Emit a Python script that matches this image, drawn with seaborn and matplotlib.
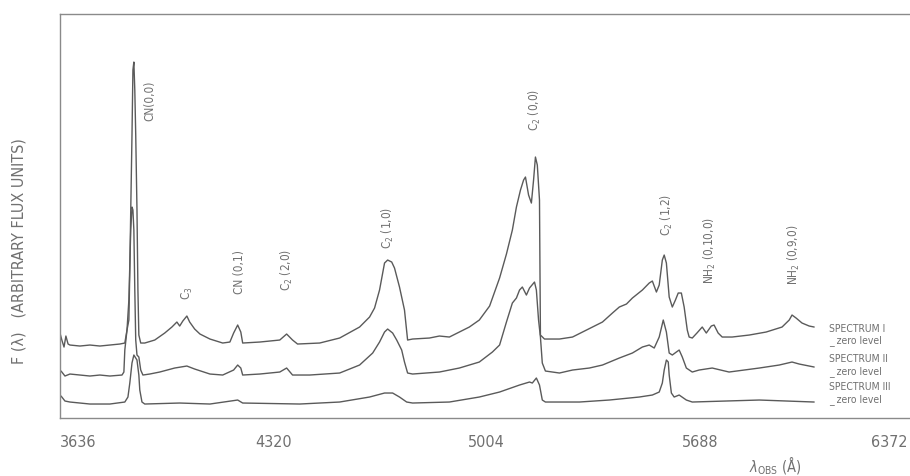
import matplotlib
matplotlib.use("Agg")
import matplotlib.pyplot as plt
import matplotlib.transforms as mtransforms
import seaborn as sns
import pandas as pd

# Observed wavelength (Angstrom) and relative flux for the three cometary spectra
wave_1 = [3636, 3642, 3649, 3655, 3662, 3668, 3700, 3732, 3764, 3796, 3828, 3844, 3851, 3857,
          3860, 3863, 3867, 3870, 3873, 3876, 3879, 3883, 3886, 3889, 3895, 3908, 3940, 3972,
          3995, 4011, 4020, 4030, 4043, 4052, 4068, 4085, 4117, 4158, 4181, 4193, 4206, 4216,
          4222, 4277, 4341, 4363, 4382, 4398, 4469, 4533, 4597, 4629, 4645, 4661, 4677, 4687,
          4700, 4709, 4725, 4741, 4751, 4767, 4821, 4853, 4885, 4917, 4949, 4981, 5014, 5046,
          5068, 5087, 5100, 5113, 5123, 5129, 5139, 5148, 5155, 5161, 5167, 5174, 5177, 5190,
          5238, 5280, 5312, 5344, 5376, 5408, 5430, 5453, 5472, 5504, 5526, 5536, 5549, 5558,
          5568, 5574, 5581, 5590, 5600, 5610, 5619, 5629, 5638, 5648, 5654, 5664, 5679, 5696,
          5709, 5725, 5734, 5747, 5760, 5792, 5847, 5901, 5952, 5975, 5984, 5997, 6016, 6039,
          6055]
flux_1 = [84, 77, 70, 81, 73, 72, 71, 72, 71, 72, 73, 74, 87, 97,
          147, 207, 282, 347, 355, 327, 282, 207, 127, 82, 74, 74, 77, 84,
          90, 95, 91, 96, 101, 95, 88, 83, 78, 74, 75, 84, 92, 85,
          74, 75, 77, 83, 77, 73, 74, 79, 90, 100, 109, 127, 154, 157,
          155, 149, 130, 107, 77, 78, 79, 81, 80, 85, 90, 97, 111, 139,
          163, 187, 210, 227, 237, 240, 222, 214, 237, 260, 252, 217, 82, 78,
          78, 80, 85, 90, 95, 104, 110, 113, 119, 127, 134, 136, 125, 132,
          157, 162, 154, 120, 110, 117, 124, 124, 110, 87, 80, 79, 84, 90,
          84, 91, 92, 84, 80, 80, 82, 85, 90, 97, 102, 99, 94, 91,
          90]

wave_2 = [3636, 3642, 3652, 3668, 3700, 3732, 3764, 3796, 3835, 3841, 3844, 3851, 3857, 3863,
          3867, 3870, 3873, 3876, 3879, 3883, 3889, 3895, 3902, 3924, 3956, 4004, 4043, 4068,
          4117, 4158, 4193, 4206, 4216, 4222, 4277, 4341, 4363, 4382, 4437, 4533, 4597, 4639,
          4661, 4677, 4687, 4703, 4716, 4732, 4741, 4751, 4767, 4853, 4917, 4981, 5023, 5046,
          5068, 5087, 5100, 5110, 5119, 5132, 5142, 5158, 5164, 5171, 5177, 5183, 5193, 5238,
          5280, 5334, 5376, 5430, 5472, 5504, 5526, 5542, 5558, 5571, 5581, 5590, 5600, 5613,
          5622, 5632, 5645, 5664, 5686, 5728, 5782, 5879, 5943, 5984, 6007, 6055]
flux_2 = [47, 45, 41, 43, 42, 41, 42, 41, 42, 45, 67, 87, 117, 187,
          210, 207, 187, 127, 77, 62, 60, 47, 42, 43, 45, 49, 51, 48,
          43, 42, 47, 52, 49, 42, 43, 45, 49, 42, 42, 44, 52, 64,
          75, 85, 88, 84, 77, 67, 55, 44, 43, 45, 49, 55, 65, 72,
          95, 114, 119, 127, 130, 122, 129, 135, 127, 97, 80, 54, 46, 44,
          47, 49, 52, 59, 64, 70, 72, 69, 80, 97, 85, 64, 62, 65,
          67, 60, 49, 45, 47, 49, 45, 49, 52, 55, 53, 50]

wave_3 = [3636, 3642, 3652, 3668, 3732, 3796, 3844, 3854, 3860, 3867, 3873, 3883, 3889, 3892,
          3899, 3908, 4020, 4117, 4206, 4222, 4405, 4533, 4629, 4677, 4703, 4725, 4748, 4767,
          4885, 4981, 5046, 5110, 5142, 5151, 5164, 5174, 5183, 5193, 5302, 5398, 5494, 5536,
          5558, 5568, 5574, 5581, 5587, 5590, 5597, 5606, 5622, 5645, 5664, 5879, 6055]
flux_3 = [22, 20, 16, 15, 13, 13, 15, 20, 34, 54, 62, 57, 42, 27,
          15, 13, 14, 13, 17, 14, 13, 15, 20, 24, 24, 20, 15, 14,
          15, 20, 25, 32, 35, 34, 39, 32, 17, 15, 15, 17, 20, 22,
          25, 34, 47, 57, 55, 42, 24, 20, 22, 17, 15, 17, 15]

spectrum_names = ["SPECTRUM I", "SPECTRUM II", "SPECTRUM III"]

# Molecular band identifications: label, wavelength and label height
band_labels = ["CN(0,0)", "C$_3$", "CN (0,1)", "C$_2$ (2,0)", "C$_2$ (1,0)",
               "C$_2$ (0,0)", "C$_2$ (1,2)", "NH$_2$ (0,10,0)", "NH$_2$ (0,9,0)"]
band_wave = [3924, 4046, 4213, 4363, 4687, 5158, 5584, 5722, 5991]
band_height = [316, 124, 145, 147, 189, 307, 202, 167, 162]

tick_values = [3636, 4320, 5004, 5688, 6372]
tick_labels = ["3636", "4320", "5004", "5688", "6372"]

frames = []
for name, w, f in zip(spectrum_names, [wave_1, wave_2, wave_3], [flux_1, flux_2, flux_3]):
    frames.append(pd.DataFrame({"wavelength": w, "flux": f, "spectrum": name}))
df = pd.concat(frames, ignore_index=True)

sns.set_theme(style="white")
plt.rcParams["font.family"] = ["DejaVu Sans"]
plt.rcParams["font.stretch"] = "condensed"
plt.rcParams["mathtext.fontset"] = "dejavusans"

line_col = "#5a5a5a"
text_col = "#707070"
frame_col = "#8a8a8a"

fig = plt.figure(figsize=(9.10, 4.76), dpi=100)
ax = fig.add_axes([0.0659, 0.1218, 0.9374, 0.8487])

sns.lineplot(data=df, x="wavelength", y="flux", hue="spectrum",
             palette={n: line_col for n in spectrum_names},
             estimator=None, sort=False, legend=False, linewidth=1.0, ax=ax)

ax.set_xlim(3636, 6372)
ax.set_ylim(-1, 403)
ax.set_xticks(tick_values)
ax.set_xticklabels(tick_labels)
ax.set_yticks([134, 267])
ax.set_yticklabels([])
ax.set_xlabel("")
ax.set_ylabel("F (λ)   (ARBITRARY FLUX UNITS)", color=text_col, fontsize=11.5)
ax.yaxis.set_label_coords(-0.039, 0.413)

for s in ["left", "top", "bottom"]:
    ax.spines[s].set_color(frame_col)
    ax.spines[s].set_linewidth(1.0)
ax.spines["right"].set_visible(False)

ax.tick_params(axis="both", direction="out", length=5, width=0.9, color=frame_col,
               labelcolor=text_col, labelsize=11.5)
ax.tick_params(axis="x", pad=7)
xt = ax.get_xticklabels()
xt[0].set_horizontalalignment("left")
xt[-1].set_horizontalalignment("right")
xt[-1].set_transform(xt[-1].get_transform()
                     + mtransforms.ScaledTranslation(-4 / 72, 0, fig.dpi_scale_trans))

for lab, w, h in zip(band_labels, band_wave, band_height):
    ax.text(w, h, lab, rotation=90, ha="center", va="center",
            color=text_col, fontsize=8.5)

# Spectrum names with their zero-level markers
name_heights = [88, 58, 30]
zero_heights = [76, 45, 17]
for name, hy, hz in zip(spectrum_names, name_heights, zero_heights):
    ax.text(6103, hy, name, ha="left", va="center", color=text_col, fontsize=7.5)
    ax.text(6103, hz, "_ zero level", ha="left", va="center", color=text_col, fontsize=7.5)

fig.text(775 / 910, 1 - 466 / 476, r"$\lambda_{\rm OBS}$ (Å)", ha="center", va="center",
         color=text_col, fontsize=10.5)

fig.savefig("out.png", dpi=100)
